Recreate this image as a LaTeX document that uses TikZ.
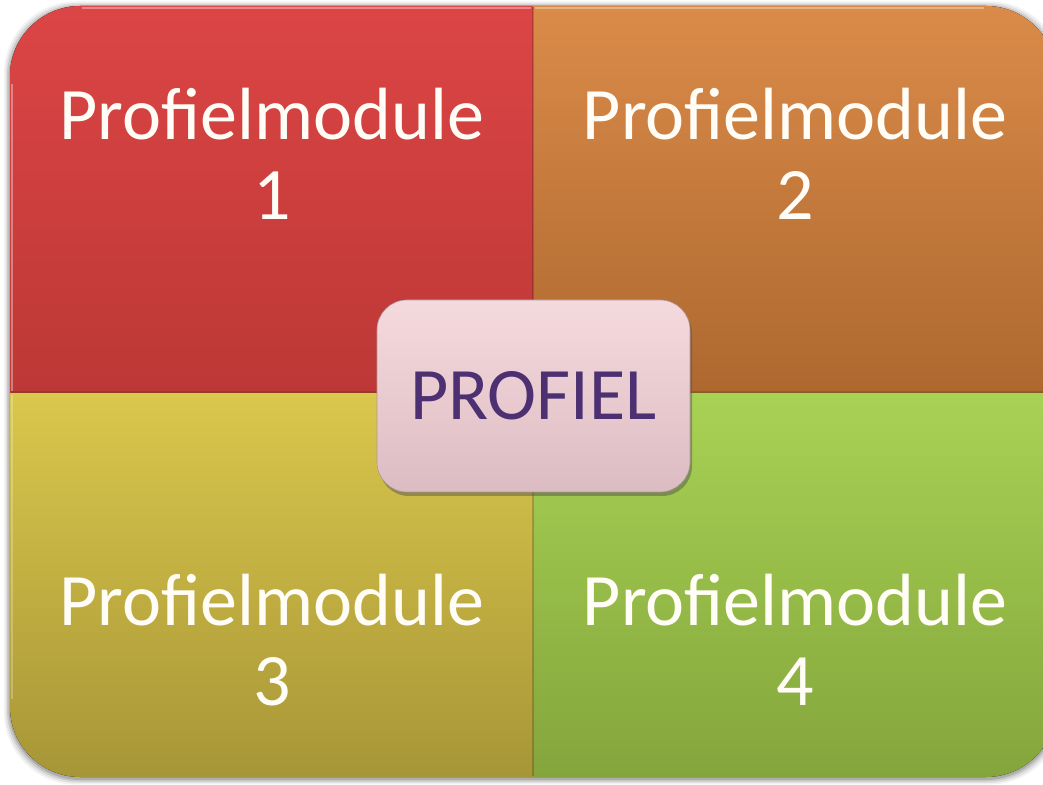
\documentclass[tikz,border=0pt]{standalone}
\usepackage{fontspec}
\setmainfont{Carlito}
\usetikzlibrary{shadows}
\definecolor{redT}{HTML}{DC4545}
\definecolor{redB}{HTML}{BC3836}
\definecolor{oraT}{HTML}{DA8B49}
\definecolor{oraB}{HTML}{AE682F}
\definecolor{yelT}{HTML}{DAC74C}
\definecolor{yelB}{HTML}{A79637}
\definecolor{grnT}{HTML}{A8D254}
\definecolor{grnB}{HTML}{84A53C}
\definecolor{pinkT}{HTML}{F5DADD}
\definecolor{pinkB}{HTML}{DCBCC3}
\definecolor{purp}{HTML}{4D3072}
\definecolor{cream}{HTML}{FFFDF6}
\tikzset{
  modtext/.style={text=cream, align=center, inner sep=0pt,
    font=\fontsize{74}{80}\selectfont},
  centerbox/.style={draw=pinkB!80!black, line width=0.6pt, rounded corners=30pt,
    top color=pinkT, bottom color=pinkB, minimum width=313pt, minimum height=192pt,
    text=purp, font=\fontsize{74}{80}\selectfont, inner sep=0pt,
    drop shadow={shadow xshift=2pt, shadow yshift=-4pt, opacity=0.45, fill=black!70}},
}
\begin{document}
\begin{tikzpicture}[x=1pt,y=1pt]
\useasboundingbox (0,0) rectangle (1043,784);
\clip (0,0) rectangle (1043,784);
% soft shadow of the outer shape
\foreach \o/\a in {6/0.05,4.5/0.07,3/0.10,1.5/0.14}{
  \fill[black, opacity=\a, rounded corners=72pt]
    (10-\o,7-\o-1.5) rectangle (1056+\o,778+\o-1.5);
}
% quadrants
\fill[top color=redT, bottom color=redB]
  (10,391) -- (10,708) arc[start angle=180, end angle=90, radius=70] -- (533,778) -- (533,391) -- cycle;
\fill[top color=oraT, bottom color=oraB]
  (533,391) -- (533,778) -- (986,778) arc[start angle=90, end angle=0, radius=70] -- (1056,391) -- cycle;
\fill[top color=yelT, bottom color=yelB]
  (10,391) -- (10,77) arc[start angle=180, end angle=270, radius=70] -- (80,7) -- (533,7) -- (533,391) -- cycle;
\fill[top color=grnT, bottom color=grnB]
  (533,391) -- (533,7) -- (986,7) arc[start angle=270, end angle=360, radius=70] -- (1056,77) -- (1056,391) -- cycle;
% subtle bevel highlights / dividers
\draw[white, opacity=0.35, line width=2pt] (12,700) -- (12,393);
\draw[white, opacity=0.35, line width=2pt] (82,776) -- (531,776);
\draw[white, opacity=0.35, line width=2pt] (535,776) -- (984,776);
\draw[white, opacity=0.25, line width=2pt] (12,389) -- (12,85);
\draw[black, opacity=0.18, line width=1.5pt] (533,8) -- (533,777);
\draw[black, opacity=0.12, line width=1.2pt] (11,392) -- (1043,392);
% texts
\node[modtext, anchor=base] (m1) at (272,564) {Profielmodule\\1};
\node[modtext, anchor=base] (m2) at (795,564) {Profielmodule\\2};
\node[modtext, anchor=base] (m3) at (272,79) {Profielmodule\\3};
\node[modtext, anchor=base] (m4) at (795,79) {Profielmodule\\4};
% centre
\node[centerbox] (p) at (533.5,388) {PROFIEL};
\end{tikzpicture}
\end{document}
